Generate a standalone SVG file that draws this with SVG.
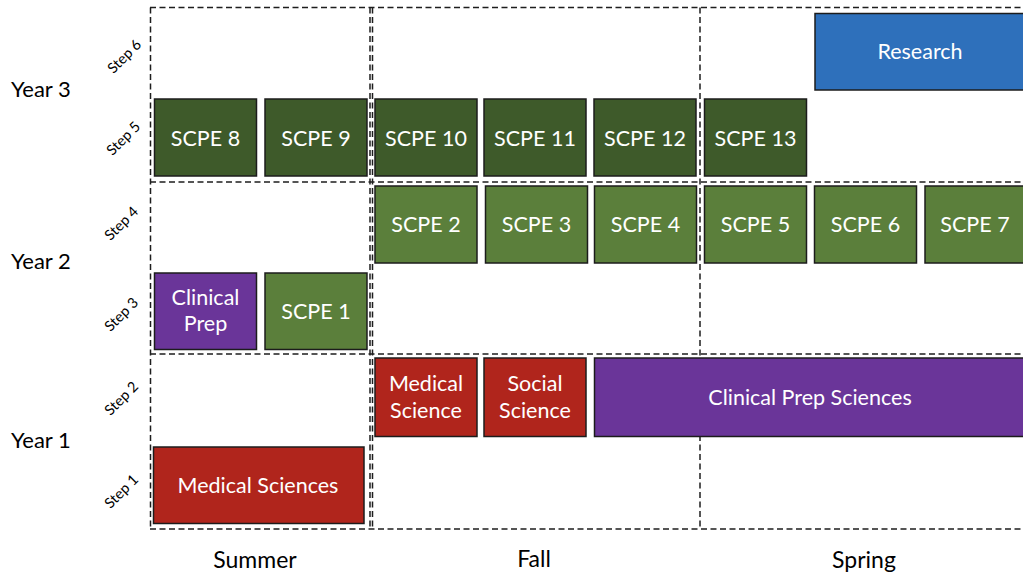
<svg xmlns="http://www.w3.org/2000/svg" width="1023" height="577" viewBox="0 0 1023 577">
<style>
.grid{stroke:#1e1e1e;stroke-width:1.5;stroke-dasharray:6 3.5;fill:none}
.box{stroke:#1c1c1c;stroke-width:1.5}
.red{fill:#b0251c}
.pur{fill:#6a3599}
.blue{fill:#2e70bb}
.dg{fill:#3e5a2a}
.lg{fill:#5b7f3b}
.bt{font-family:Lato,"Open Sans",sans-serif;font-size:21.5px;fill:#ffffff;text-anchor:middle}
.yr{font-family:Lato,"Open Sans",sans-serif;font-size:22px;fill:#000;}
.se{font-family:Lato,"Open Sans",sans-serif;font-size:23px;fill:#000;text-anchor:middle}
.st{font-family:Lato,"Open Sans",sans-serif;font-size:14.5px;fill:#000;text-anchor:middle;dominant-baseline:central}
</style>
<rect width="1023" height="577" fill="#ffffff"/>
<g id="grid">
<line class="grid" x1="150" y1="7.5" x2="1023" y2="7.5"/>
<line class="grid" x1="150" y1="182" x2="1023" y2="182"/>
<line class="grid" x1="150" y1="354" x2="1023" y2="354"/>
<line class="grid" x1="150" y1="529" x2="1023" y2="529"/>
<line class="grid" x1="150.5" y1="7.5" x2="150.5" y2="529"/>
<line class="grid" x1="370" y1="7.5" x2="370" y2="529"/>
<line class="grid" x1="372.5" y1="7.5" x2="372.5" y2="529"/>
<line class="grid" x1="700" y1="7.5" x2="700" y2="529"/>
</g>
<g id="labels">
<text class="yr" x="11" y="97">Year 3</text>
<text class="yr" x="11" y="269">Year 2</text>
<text class="yr" x="11" y="448">Year 1</text>
<text class="se" x="255" y="568">Summer</text>
<text class="se" x="534" y="567">Fall</text>
<text class="se" x="864" y="568">Spring</text>
<text class="st" transform="translate(124,56) rotate(-45)">Step 6</text>
<text class="st" transform="translate(123,138) rotate(-45)">Step 5</text>
<text class="st" transform="translate(121,223) rotate(-45)">Step 4</text>
<text class="st" transform="translate(121,314) rotate(-45)">Step 3</text>
<text class="st" transform="translate(121,398) rotate(-45)">Step 2</text>
<text class="st" transform="translate(121,491) rotate(-45)">Step 1</text>
</g>
<g id="research"><rect class="box blue" x="815" y="13.5" width="215" height="76.5"/><text class="bt" x="920" y="59">Research</text></g>
<g id="scpe8"><rect class="box dg" x="154.5" y="99" width="102" height="77"/><text class="bt" x="205.5" y="145.5">SCPE 8</text></g>
<g id="scpe9"><rect class="box dg" x="265" y="99" width="102" height="77"/><text class="bt" x="316" y="145.5">SCPE 9</text></g>
<g id="scpe10"><rect class="box dg" x="375" y="99" width="102" height="77"/><text class="bt" x="426" y="145.5">SCPE 10</text></g>
<g id="scpe11"><rect class="box dg" x="484" y="99" width="102" height="77"/><text class="bt" x="535" y="145.5">SCPE 11</text></g>
<g id="scpe12"><rect class="box dg" x="594" y="99" width="102" height="77"/><text class="bt" x="645" y="145.5">SCPE 12</text></g>
<g id="scpe13"><rect class="box dg" x="704.5" y="99" width="102" height="77"/><text class="bt" x="755.5" y="145.5">SCPE 13</text></g>
<g id="scpe2"><rect class="box lg" x="375" y="186" width="102" height="77"/><text class="bt" x="426" y="232">SCPE 2</text></g>
<g id="scpe3"><rect class="box lg" x="485.5" y="186" width="102" height="77"/><text class="bt" x="536.5" y="232">SCPE 3</text></g>
<g id="scpe4"><rect class="box lg" x="594.5" y="186" width="102" height="77"/><text class="bt" x="645.5" y="232">SCPE 4</text></g>
<g id="scpe5"><rect class="box lg" x="704.5" y="186" width="102" height="77"/><text class="bt" x="755.5" y="232">SCPE 5</text></g>
<g id="scpe6"><rect class="box lg" x="814.5" y="186" width="102" height="77"/><text class="bt" x="865.5" y="232">SCPE 6</text></g>
<g id="scpe7"><rect class="box lg" x="925" y="186" width="102" height="77"/><text class="bt" x="975" y="232">SCPE 7</text></g>
<g id="clinicalprep"><rect class="box pur" x="154.5" y="273" width="102" height="76.5"/><text class="bt" x="205.5" y="305">Clinical</text><text class="bt" x="205.5" y="331">Prep</text></g>
<g id="scpe1"><rect class="box lg" x="265" y="273" width="102" height="76.5"/><text class="bt" x="316" y="319">SCPE 1</text></g>
<g id="medscience"><rect class="box red" x="375" y="358" width="102" height="78.5"/><text class="bt" x="426" y="391">Medical</text><text class="bt" x="426" y="418">Science</text></g>
<g id="socscience"><rect class="box red" x="484" y="358" width="102" height="78.5"/><text class="bt" x="535" y="391">Social</text><text class="bt" x="535" y="418">Science</text></g>
<g id="clinprepsci"><rect class="box pur" x="594.5" y="358" width="435" height="78.5"/><text class="bt" x="810" y="405">Clinical Prep Sciences</text></g>
<g id="medsciences"><rect class="box red" x="153.5" y="447" width="210.5" height="76.5"/><text class="bt" x="258" y="493">Medical Sciences</text></g>
</svg>
